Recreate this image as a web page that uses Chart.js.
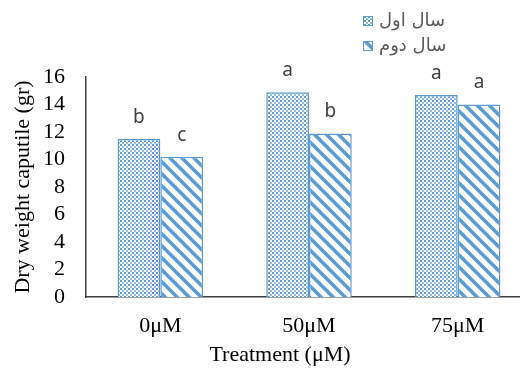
<!DOCTYPE html>
<html>
<head>
<meta charset="utf-8">
<script src="https://cdn.jsdelivr.net/npm/chart.js@4.4.1/dist/chart.umd.min.js"></script>
<style>
  html, body { margin: 0; padding: 0; background: #fff; overflow: hidden; }
  #wrap { width: 520px; height: 369px; overflow: hidden; }
</style>
</head>
<body>
<div id="wrap"><canvas id="chart" width="532" height="369"></canvas></div>
<script>
const categories = ['0μM', '50μM', '75μM'];
const seriesNames = ['سال اول', 'سال دوم'];
const year1 = [11.5, 14.9, 14.7];
const year2 = [10.2, 11.9, 14.0];
const letters1 = ['b', 'a', 'a'];
const letters2 = ['c', 'b', 'a'];
const xTitle = 'Treatment (μM)';

const BLUE = '#5b9bd5';

// small dotted tile for first year
function dotPattern(ctx) {
  const c = document.createElement('canvas');
  c.width = 4; c.height = 4;
  const g = c.getContext('2d');
  g.fillStyle = '#ffffff';
  g.fillRect(0, 0, 4, 4);
  g.fillStyle = BLUE;
  g.fillRect(0, 0, 2, 2);
  g.fillStyle = '#8dbbe6';
  g.fillRect(2, 2, 2, 2);
  return ctx.createPattern(c, 'repeat');
}

// wide downward diagonal stripes for second year
function stripePattern(ctx) {
  const c = document.createElement('canvas');
  c.width = 12; c.height = 12;
  const g = c.getContext('2d');
  g.fillStyle = '#ffffff';
  g.fillRect(0, 0, 12, 12);
  g.strokeStyle = BLUE;
  g.lineWidth = 3.5;
  for (let k = -12; k <= 12; k += 12) {
    g.beginPath();
    g.moveTo(k - 2, -2);
    g.lineTo(k + 14, 14);
    g.stroke();
  }
  return ctx.createPattern(c, 'repeat');
}

const canvas = document.getElementById('chart');
const ctx = canvas.getContext('2d');
const fills = [dotPattern(ctx), stripePattern(ctx)];

// letters above bars, x title, vertical legend in the top right
const extras = {
  id: 'extras',
  afterDatasetsDraw(chart) {
    const c = chart.ctx;
    c.save();
    c.fillStyle = '#404040';
    c.font = '19px "Noto Sans"';
    c.textAlign = 'center';
    c.textBaseline = 'bottom';
    [letters1, letters2].forEach((lt, di) => {
      chart.getDatasetMeta(di).data.forEach((bar, i) => {
        c.fillText(lt[i], bar.x, bar.y - 12);
      });
    });

    // the visible plot is cut at 520, title sits centred on what's seen
    c.fillStyle = '#000';
    c.font = '22px "Liberation Serif"';
    c.textBaseline = 'middle';
    c.fillText(xTitle, 280, 355);

    c.font = '18px "DejaVu Sans"';
    c.textAlign = 'left';
    seriesNames.forEach((name, i) => {
      const y = 21 + i * 25;
      c.fillStyle = fills[i];
      c.fillRect(363, y - 5, 10, 10);
      c.strokeStyle = BLUE;
      c.lineWidth = 1;
      c.strokeRect(363.5, y - 4.5, 9, 9);
      c.fillStyle = '#595959';
      c.fillText(name, 379, y);
    });
    c.restore();
  }
};

new Chart(ctx, {
  type: 'bar',
  data: {
    labels: categories,
    datasets: [
      { label: seriesNames[0], data: year1, backgroundColor: fills[0], borderColor: BLUE, borderWidth: 1.5 },
      { label: seriesNames[1], data: year2, backgroundColor: fills[1], borderColor: BLUE, borderWidth: 1.5 }
    ]
  },
  options: {
    responsive: false,
    animation: false,
    layout: { padding: { top: 77, right: 0, left: 0, bottom: 0 } },
    datasets: { bar: { categoryPercentage: 0.575, barPercentage: 1 } },
    plugins: { legend: { display: false }, tooltip: { enabled: false } },
    scales: {
      x: {
        grid: { display: false, drawTicks: false },
        border: { color: '#404040', width: 1.5 },
        ticks: { color: '#000', font: { family: '"Liberation Serif"', size: 22 }, padding: 16 },
        afterFit(s) { s.height = 72; }
      },
      y: {
        min: 0, max: 16,
        grid: { display: false, drawTicks: false },
        border: { color: '#404040', width: 1.5 },
        ticks: { stepSize: 2, autoSkip: false, color: '#000', font: { family: '"Liberation Serif"', size: 22 }, padding: 21 },
        title: { display: true, text: 'Dry weight caputile (gr)', color: '#000', font: { family: '"Liberation Serif"', size: 22 }, padding: { top: 10, bottom: 0 } },
        afterFit(s) { s.width = 86; }
      }
    }
  },
  plugins: [extras]
});
</script>
</body>
</html>
